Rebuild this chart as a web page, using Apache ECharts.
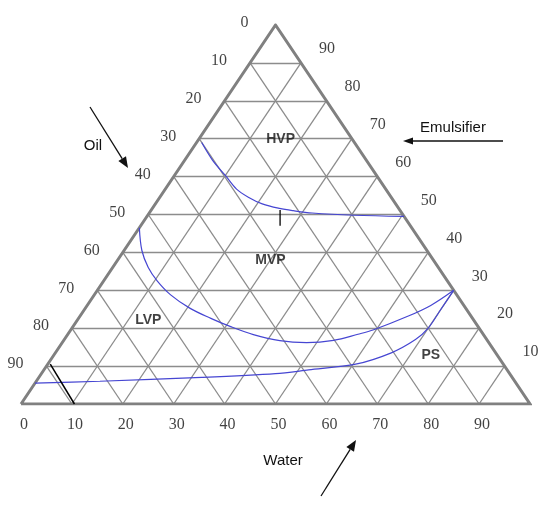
<!DOCTYPE html>
<html>
<head>
<meta charset="utf-8">
<script src="https://cdn.jsdelivr.net/npm/echarts@6/dist/echarts.min.js"></script>
<style>
html, body { margin: 0; padding: 0; background: #fff; }
#chart { width: 550px; height: 506px; }
</style>
</head>
<body>
<div id="chart"></div>
<script>
// every point is [water %, emulsifier %]; oil = 100 - water - emulsifier
const gridSteps = [10, 20, 30, 40, 50, 60, 70, 80, 90];
const oilTicks = ['0', '10', '20', '30', '40', '50', '60', '70', '80', '90'];
const emulsifierTicks = ['90', '80', '70', '60', '50', '40', '30', '20', '10'];
const waterTicks = ['0', '10', '20', '30', '40', '50', '60', '70', '80', '90'];

// phase boundaries
const hvpWater = [1, 5.5, 10, 14, 17.5, 21, 25, 28, 32, 40.5, 50.5];
const hvpEmulsifier = [69, 64.3, 60.3, 56.7, 54.5, 52.8, 51.6, 51, 50.4, 49.8, 49.5];
const lvpWater = [0, 3.5, 7, 10.5, 15, 20.5, 26, 31, 36.5, 42.5, 48, 53, 57, 59.5, 64.5, 67.5, 70];
const lvpEmulsifier = [46.5, 40.5, 36, 32.5, 28.8, 25.3, 22.6, 20.4, 18.3, 16.7, 16.2, 16.8, 18.4, 19.6, 23.2, 26, 30];
const psWater = [0, 12.5, 32, 46, 52, 60.5, 66, 69, 70, 70, 70];
const psEmulsifier = [5.5, 6, 7, 8, 9, 10.5, 13.5, 17, 20, 25, 30];
const tieWater = [0.5, 10.5];
const tieEmulsifier = [10.5, 0];
const markWater = [25.3, 27.4];
const markEmulsifier = [51.2, 47];

const regionNames = ['HVP', 'MVP', 'LVP', 'PS'];
const regionWater = [16, 30, 14, 74];
const regionEmulsifier = [70, 38, 22, 13];

function toXY(water, emul) {
  return [water + emul / 2, emul];
}
function curve(ws, es) {
  return ws.map((w, i) => toXY(w, es[i]));
}

// grid lines: constant emulsifier, constant water, constant oil
let gridLines = [];
gridSteps.forEach(v => {
  gridLines.push({ coords: [toXY(0, v), toXY(100 - v, v)] });
  gridLines.push({ coords: [toXY(v, 0), toXY(v, 100 - v)] });
  gridLines.push({ coords: [toXY(100 - v, 0), toXY(0, 100 - v)] });
});

function tickSeries(points, offset) {
  return {
    type: 'scatter',
    symbolSize: 0,
    silent: true,
    data: points,
    label: {
      show: true,
      position: 'inside',
      offset: offset,
      formatter: '{b}',
      fontFamily: 'Liberation Serif',
      fontSize: 16,
      color: '#111'
    },
    z: 5
  };
}

function arrow(x1, y1, x2, y2, len, half) {
  const dx = x2 - x1, dy = y2 - y1;
  const d = Math.sqrt(dx * dx + dy * dy);
  const ux = dx / d, uy = dy / d;
  const bx = x2 - ux * len, by = y2 - uy * len;
  return [
    { type: 'line', shape: { x1: x1, y1: y1, x2: bx, y2: by }, style: { stroke: '#111', lineWidth: 1.3 } },
    { type: 'polygon', shape: { points: [[x2, y2], [bx - uy * half, by + ux * half], [bx + uy * half, by - ux * half]] }, style: { fill: '#111' } }
  ];
}

const axisTitleStyle = { fontFamily: 'Liberation Sans', fontSize: 15, fill: '#111' };
const curveStyle = { color: '#4646d2', width: 1.2 };

const chart = echarts.init(document.getElementById('chart'));
chart.setOption({
  animation: false,
  grid: { left: 21, right: 20, top: 25, bottom: 102 },
  xAxis: { type: 'value', min: 0, max: 100, show: false },
  yAxis: { type: 'value', min: 0, max: 100, show: false },
  graphic: [].concat(
    arrow(90, 107, 128, 168, 11, 4.5),
    arrow(503, 141, 403, 141, 10, 3.5),
    arrow(321, 496, 356, 440, 11, 4.5),
    [
      { type: 'text', x: 93, y: 146, style: Object.assign({ text: 'Oil', align: 'center', verticalAlign: 'middle' }, axisTitleStyle) },
      { type: 'text', x: 453, y: 128, style: Object.assign({ text: 'Emulsifier', align: 'center', verticalAlign: 'middle' }, axisTitleStyle) },
      { type: 'text', x: 283, y: 461, style: Object.assign({ text: 'Water', align: 'center', verticalAlign: 'middle' }, axisTitleStyle) }
    ]
  ),
  series: [
    {
      type: 'lines',
      coordinateSystem: 'cartesian2d',
      silent: true,
      data: gridLines,
      lineStyle: { color: '#8c8c8c', width: 1.3, opacity: 1 },
      z: 1
    },
    {
      type: 'line',
      silent: true,
      symbol: 'none',
      data: [toXY(0, 0), toXY(0, 100), toXY(100, 0), toXY(0, 0)],
      lineStyle: { color: '#808080', width: 3, join: 'miter' },
      z: 2
    },
    {
      type: 'line', silent: true, symbol: 'none', smooth: 0.35,
      data: curve(hvpWater, hvpEmulsifier),
      lineStyle: curveStyle, z: 3
    },
    {
      type: 'line', silent: true, symbol: 'none', smooth: 0.35,
      data: curve(lvpWater, lvpEmulsifier),
      lineStyle: curveStyle, z: 3
    },
    {
      type: 'line', silent: true, symbol: 'none', smooth: 0.3,
      data: curve(psWater, psEmulsifier),
      lineStyle: curveStyle, z: 3
    },
    {
      type: 'line', silent: true, symbol: 'none',
      data: curve(tieWater, tieEmulsifier),
      lineStyle: { color: '#000', width: 1.5 }, z: 3
    },
    {
      type: 'line', silent: true, symbol: 'none',
      data: [[toXY(markWater[0], markEmulsifier[0])[0], markEmulsifier[0]], [toXY(markWater[0], markEmulsifier[0])[0], markEmulsifier[1]]],
      lineStyle: { color: '#000', width: 1.3 }, z: 3
    },
    tickSeries(oilTicks.map(t => ({ name: t, value: toXY(0, 100 - Number(t)) })), [-31, -2]),
    tickSeries(emulsifierTicks.map(t => ({ name: t, value: toXY(100 - Number(t), Number(t)) })), [26, -14]),
    tickSeries(waterTicks.map(t => ({ name: t, value: toXY(Number(t), 0) })), [3, 21]),
    {
      type: 'scatter',
      symbolSize: 0,
      silent: true,
      data: regionNames.map((n, i) => ({ name: n, value: toXY(regionWater[i], regionEmulsifier[i]) })),
      label: {
        show: true,
        position: 'inside',
        formatter: '{b}',
        fontFamily: 'Liberation Sans',
        fontWeight: 'bold',
        fontSize: 14,
        color: '#111'
      },
      z: 6
    }
  ]
});
</script>
</body>
</html>
